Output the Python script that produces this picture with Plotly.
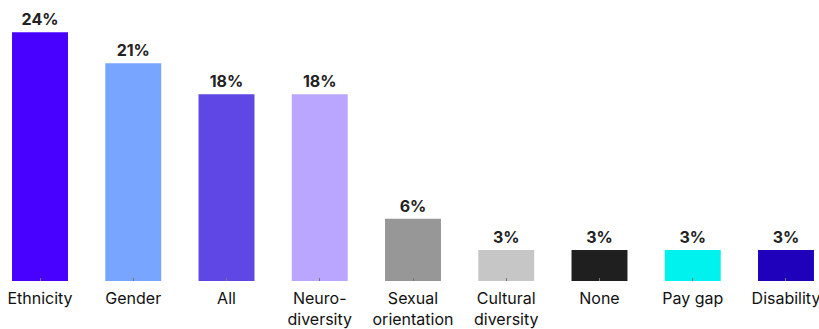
import plotly.graph_objects as go

categories = ["Ethnicity", "Gender", "All", "Neuro-<br>diversity", "Sexual<br>orientation",
              "Cultural<br>diversity", "None", "Pay gap", "Disability"]
values = [24, 21, 18, 18, 6, 3, 3, 3, 3]
colors = ["#4800ff", "#78a5ff", "#5f47e6", "#baa6ff", "#979797", "#c6c6c6", "#1f1f1f", "#00f2ee", "#1f00bb"]

fig = go.Figure(go.Bar(
    x=list(range(len(categories))),
    y=values,
    marker=dict(color=colors, line=dict(width=0)),
    width=0.6,
    text=[f"{v}%" for v in values],
    textposition="outside",
    textfont=dict(family="Inter", size=16, color="#222222", weight="bold"),
    cliponaxis=False,
))

fig.update_layout(
    width=819, height=329,
    margin=dict(l=0, r=0, t=0, b=48),
    paper_bgcolor="white", plot_bgcolor="white",
    showlegend=False,
    xaxis=dict(
        range=[-0.429, 8.354],
        tickmode="array",
        tickvals=list(range(len(categories))),
        ticktext=categories,
        tickfont=dict(family="Inter", size=16, color="#111111"),
        ticks="inside", ticklen=3, tickcolor="#777777", tickwidth=1,
        ticklabelstandoff=6,
        ticklabeloverflow="allow",
        showgrid=False, zeroline=False, showline=False,
        automargin=False,
    ),
    yaxis=dict(range=[0, 27.1], visible=False, showgrid=False, zeroline=False),
)

fig.write_html("out.html")
